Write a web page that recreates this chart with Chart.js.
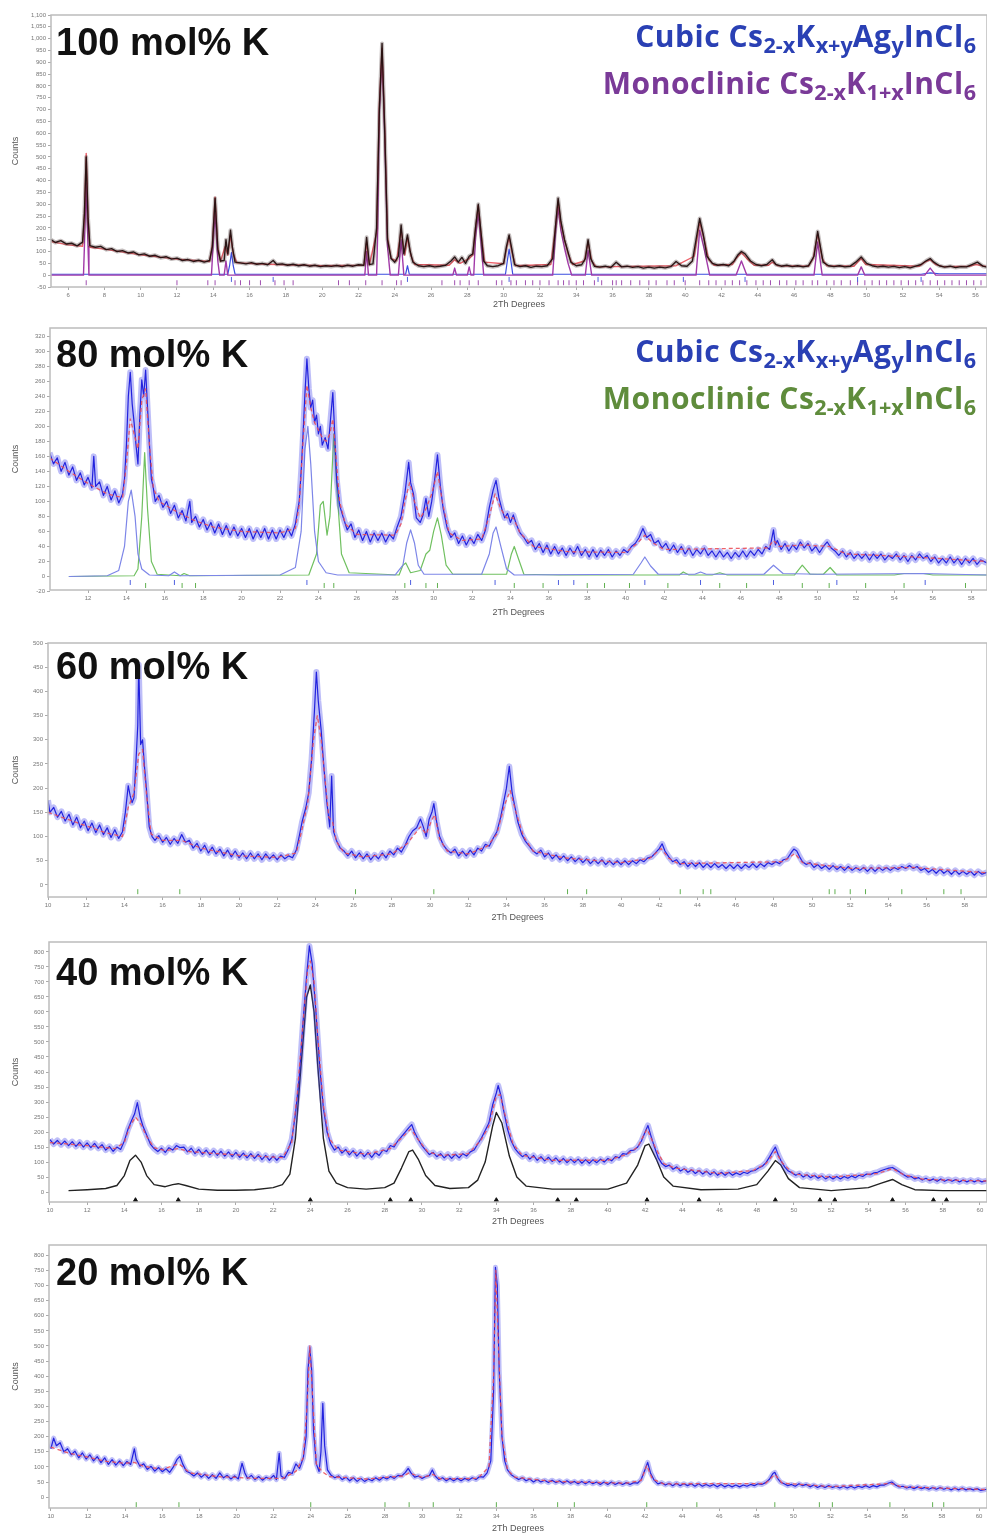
<!DOCTYPE html>
<html>
<head>
<meta charset="utf-8">
<script src="https://cdn.jsdelivr.net/npm/chart.js@4.4.1/dist/chart.umd.min.js"></script>
<style>
  body { margin: 0; background: #fff; width: 987px; height: 1537px; overflow: hidden; position: relative; font-family: "Liberation Sans", Arial, sans-serif; }
  canvas { position: absolute; left: 0; }
  .tag { position: absolute; left: 56px; font-weight: bold; font-size: 38px; line-height: 1; color: #111; white-space: nowrap; }
  .leg { position: absolute; right: 11px; font-family: "Open Sans", Lato, sans-serif; font-weight: bold; font-size: 30px; line-height: 1; white-space: nowrap; letter-spacing: 0.5px; }
  .leg sub { font-size: 0.72em; vertical-align: -0.3em; line-height: 0; letter-spacing: 0; }
  .cub { color: #2a40b4; }
  .mono1 { color: #7a3a98; }
  .mono2 { color: #5f8c3c; }
</style>
</head>
<body>
<canvas id="p100" width="987" height="312" style="top:0px"></canvas>
<canvas id="p80" width="987" height="302" style="top:318px"></canvas>
<canvas id="p60" width="987" height="295" style="top:630px"></canvas>
<canvas id="p40" width="987" height="297" style="top:932px"></canvas>
<canvas id="p20" width="987" height="298" style="top:1238px"></canvas>

<div class="tag" style="top:23px">100 mol% K</div>
<div class="tag" style="top:335px">80 mol% K</div>
<div class="tag" style="top:647px">60 mol% K</div>
<div class="tag" style="top:953px">40 mol% K</div>
<div class="tag" style="top:1253px">20 mol% K</div>

<div class="leg cub" style="top:21px">Cubic Cs<sub>2-x</sub>K<sub>x+y</sub>Ag<sub>y</sub>InCl<sub>6</sub></div>
<div class="leg mono1" style="top:68px">Monoclinic Cs<sub>2-x</sub>K<sub>1+x</sub>InCl<sub>6</sub></div>
<div class="leg cub" style="top:336px">Cubic Cs<sub>2-x</sub>K<sub>x+y</sub>Ag<sub>y</sub>InCl<sub>6</sub></div>
<div class="leg mono2" style="top:383px">Monoclinic Cs<sub>2-x</sub>K<sub>1+x</sub>InCl<sub>6</sub></div>

<script>
// ---- 100 mol% K ----
const obs100 = [[5.06,150],[5.3,138],[5.6,146],[5.9,132],[6.2,135],[6.5,124],[6.8,140],[6.9,260],[7.0,500],[7.1,240],[7.2,125],[7.5,118],[7.8,122],[8.1,108],[8.4,112],[8.7,100],[9.0,104],[9.3,94],[9.6,98],[9.9,86],[10.2,90],[10.5,80],[10.8,84],[11.1,74],[11.4,78],[11.7,68],[12.0,72],[12.3,62],[12.6,66],[12.9,58],[13.2,63],[13.5,55],[13.8,62],[13.95,120],[14.1,325],[14.25,110],[14.4,60],[14.6,62],[14.7,150],[14.8,90],[14.95,190],[15.05,120],[15.2,55],[15.5,52],[15.8,48],[16.1,53],[16.4,46],[16.7,50],[17.0,44],[17.3,62],[17.5,45],[17.8,48],[18.1,42],[18.4,46],[18.7,40],[19.0,44],[19.3,38],[19.6,42],[19.9,36],[20.2,40],[20.5,37],[20.8,41],[21.1,36],[21.4,42],[21.7,38],[22.0,44],[22.3,42],[22.45,160],[22.6,45],[22.8,48],[23.0,200],[23.15,700],[23.3,980],[23.45,600],[23.6,150],[23.8,70],[24.0,55],[24.2,80],[24.35,212],[24.5,90],[24.7,170],[24.85,100],[25.0,55],[25.3,40],[25.6,36],[25.9,40],[26.2,35],[26.5,38],[26.8,42],[27.1,60],[27.3,77],[27.5,55],[27.7,75],[27.9,50],[28.1,80],[28.3,90],[28.45,200],[28.6,300],[28.75,180],[28.9,60],[29.1,40],[29.4,36],[29.7,40],[30.0,50],[30.15,120],[30.3,170],[30.45,110],[30.6,45],[30.9,36],[31.2,40],[31.5,33],[31.8,38],[32.1,36],[32.4,40],[32.7,70],[32.85,200],[33.0,325],[33.15,230],[33.35,150],[33.5,110],[33.7,55],[34.0,40],[34.3,44],[34.5,70],[34.65,150],[34.8,70],[35.0,38],[35.3,34],[35.6,38],[35.9,32],[36.2,55],[36.5,35],[36.8,38],[37.1,33],[37.4,36],[37.7,30],[38.0,34],[38.3,30],[38.6,34],[38.9,31],[39.2,36],[39.5,58],[39.8,40],[40.1,38],[40.4,60],[40.6,150],[40.8,240],[41.0,170],[41.2,80],[41.5,50],[41.8,42],[42.1,45],[42.4,40],[42.7,60],[42.9,85],[43.1,100],[43.3,90],[43.6,60],[43.9,45],[44.2,40],[44.5,45],[44.8,65],[45.0,45],[45.3,38],[45.6,42],[45.9,36],[46.2,40],[46.5,35],[46.8,40],[47.1,80],[47.3,185],[47.45,120],[47.6,55],[47.9,40],[48.2,36],[48.5,40],[48.8,35],[49.1,38],[49.4,55],[49.7,77],[50.0,50],[50.3,40],[50.6,35],[50.9,38],[51.2,34],[51.5,37],[51.8,32],[52.1,36],[52.4,31],[52.7,38],[53.0,45],[53.3,62],[53.5,70],[53.7,55],[54.0,40],[54.3,34],[54.6,38],[54.9,32],[55.2,36],[55.5,35],[55.8,45],[56.1,55],[56.4,38],[56.63,34]];
const calc100 = [[5.06,142],[6,128],[6.8,122],[6.9,250],[7.0,515],[7.1,250],[7.2,118],[8,110],[10,86],[12,68],[13.8,58],[13.95,130],[14.1,330],[14.25,120],[14.4,58],[14.65,120],[14.8,85],[14.95,170],[15.1,90],[15.3,52],[17,46],[20,40],[22.3,42],[22.45,140],[22.6,44],[23.0,180],[23.15,720],[23.3,960],[23.45,620],[23.6,160],[23.8,70],[24.1,60],[24.35,190],[24.55,85],[24.7,160],[24.9,80],[25.1,45],[27,42],[27.3,65],[27.6,50],[28.1,70],[28.3,85],[28.45,200],[28.6,295],[28.75,180],[28.95,55],[30.0,48],[30.15,110],[30.3,160],[30.45,100],[30.65,40],[32.6,45],[32.85,200],[33.0,315],[33.15,220],[33.35,150],[33.55,90],[33.8,45],[34.45,60],[34.65,140],[34.85,60],[35.1,35],[39.5,40],[40.5,80],[40.8,225],[41.05,150],[41.3,65],[41.6,42],[42.6,45],[42.8,70],[43.1,95],[43.4,70],[43.8,42],[44.6,42],[44.8,55],[45.1,40],[46.8,38],[47.05,70],[47.3,175],[47.55,70],[47.8,40],[49.3,38],[49.5,55],[49.7,70],[49.95,45],[52.9,38],[53.2,55],[53.5,65],[53.8,45],[54.2,36],[55.7,38],[56,45],[56.63,36]];
const mono100 = [[5.06,0],[6.85,0],[6.9,120],[7.0,390],[7.1,120],[7.15,0],[13.9,0],[13.95,70],[14.1,270],[14.25,60],[14.35,0],[14.6,0],[14.7,60],[14.8,0],[22.35,0],[22.45,100],[22.55,0],[23.0,0],[23.05,150],[23.15,680],[23.3,930],[23.45,580],[23.6,120],[23.75,0],[24.2,0],[24.35,150],[24.5,0],[27.2,0],[27.3,30],[27.4,0],[28.0,0],[28.1,35],[28.2,0],[28.35,0],[28.45,160],[28.6,262],[28.75,140],[28.9,0],[32.7,0],[32.85,170],[33.0,285],[33.15,190],[33.35,115],[33.55,50],[33.75,0],[34.5,0],[34.65,105],[34.85,0],[40.6,0],[40.8,190],[41.05,110],[41.35,0],[42.8,0],[43.1,60],[43.4,0],[47.1,0],[47.3,140],[47.55,0],[49.5,0],[49.7,35],[49.9,0],[53.2,0],[53.5,30],[53.8,0],[56.63,0]];
const cubic100 = [[5.06,4],[14.8,4],[14.9,40],[15.0,95],[15.1,40],[15.2,4],[24.6,4],[24.7,40],[24.8,4],[30.1,4],[30.2,60],[30.3,110],[30.4,60],[30.5,4],[53,4],[53.5,10],[54,6],[56.63,6]];
const monoTicks100 = [7.0,12.0,13.7,14.1,15.2,15.5,16.0,16.6,17.4,17.9,18.4,20.9,21.5,22.4,23.3,24.1,24.35,26.6,27.3,27.6,28.1,28.6,29.6,29.9,30.4,30.7,31.2,31.6,32.0,32.5,33.0,33.3,33.6,34.0,34.4,35.0,35.4,36.0,36.2,36.5,37.0,37.5,38.0,38.4,39.0,39.4,40.0,40.8,41.3,41.7,42.2,42.6,43.0,43.4,43.9,44.3,44.7,45.2,45.6,46.1,46.5,47.0,47.3,47.8,48.2,48.6,49.1,49.5,49.9,50.3,50.7,51.1,51.5,51.9,52.3,52.7,53.1,53.5,53.9,54.3,54.7,55.1,55.5,55.9,56.3];
const cubicTicks100 = [15.0,17.3,24.7,30.3,35.2,39.9,43.3,49.5,53.0];
const xTicks100 = [6,8,10,12,14,16,18,20,22,24,26,28,30,32,34,36,38,40,42,44,46,48,50,52,54,56];
const yTicks100 = [-50,0,50,100,150,200,250,300,350,400,450,500,550,600,650,700,750,800,850,900,950,1000,1050,1100];

// ---- 80 mol% K ----
const obs80 = [[10.0,165],[10.2,150],[10.4,158],[10.6,140],[10.8,152],[11.0,135],[11.2,146],[11.4,128],[11.6,138],[11.8,122],[12.0,132],[12.2,118],[12.3,160],[12.4,120],[12.6,126],[12.8,108],[13.0,120],[13.2,102],[13.4,114],[13.6,98],[13.8,110],[13.9,130],[14.0,175],[14.1,240],[14.2,272],[14.3,230],[14.4,205],[14.5,175],[14.6,150],[14.7,215],[14.8,262],[14.9,240],[15.0,275],[15.1,225],[15.2,175],[15.3,130],[15.4,118],[15.5,100],[15.7,108],[15.9,92],[16.1,100],[16.3,84],[16.5,95],[16.7,78],[16.9,88],[17.1,74],[17.3,100],[17.4,72],[17.6,80],[17.8,66],[18.0,76],[18.2,62],[18.4,72],[18.6,58],[18.8,70],[19.0,56],[19.2,68],[19.4,55],[19.6,66],[19.8,54],[20.0,64],[20.2,52],[20.4,64],[20.6,50],[20.8,62],[21.0,52],[21.2,64],[21.4,50],[21.6,62],[21.8,50],[22.0,62],[22.2,52],[22.4,64],[22.6,54],[22.8,70],[23.0,100],[23.1,140],[23.2,190],[23.3,245],[23.4,290],[23.5,250],[23.6,225],[23.7,235],[23.8,205],[23.9,215],[24.0,190],[24.1,200],[24.2,175],[24.35,185],[24.5,170],[24.6,200],[24.75,245],[24.85,190],[24.95,130],[25.1,95],[25.3,78],[25.5,62],[25.7,70],[25.9,52],[26.1,62],[26.3,48],[26.5,60],[26.7,46],[26.9,58],[27.1,48],[27.3,58],[27.5,46],[27.7,56],[27.9,50],[28.1,66],[28.3,80],[28.5,110],[28.7,152],[28.8,125],[28.95,110],[29.1,78],[29.3,72],[29.45,82],[29.6,104],[29.75,80],[29.9,100],[30.05,128],[30.2,162],[30.35,120],[30.5,90],[30.7,65],[30.9,52],[31.1,58],[31.3,44],[31.5,54],[31.7,42],[31.9,52],[32.1,44],[32.3,56],[32.5,48],[32.7,62],[32.9,92],[33.1,115],[33.25,128],[33.4,105],[33.55,90],[33.7,78],[33.85,84],[34.0,72],[34.15,82],[34.3,70],[34.5,58],[34.7,52],[34.9,44],[35.1,48],[35.3,36],[35.5,44],[35.7,32],[35.9,42],[36.1,30],[36.3,40],[36.5,30],[36.7,38],[36.9,28],[37.1,38],[37.3,30],[37.5,40],[37.7,28],[37.9,36],[38.1,26],[38.3,36],[38.5,26],[38.7,35],[38.9,28],[39.1,36],[39.3,26],[39.5,34],[39.7,28],[39.9,36],[40.1,32],[40.3,40],[40.5,44],[40.7,52],[40.9,64],[41.1,52],[41.3,56],[41.5,44],[41.7,48],[41.9,38],[42.1,44],[42.3,34],[42.5,42],[42.7,32],[42.9,40],[43.1,30],[43.3,38],[43.5,28],[43.7,36],[43.9,30],[44.1,38],[44.3,28],[44.5,34],[44.7,26],[44.9,34],[45.1,26],[45.3,32],[45.5,24],[45.7,32],[45.9,26],[46.1,34],[46.3,26],[46.5,34],[46.7,28],[46.9,36],[47.1,30],[47.3,40],[47.5,36],[47.7,62],[47.8,42],[47.9,48],[48.1,36],[48.3,44],[48.5,34],[48.7,42],[48.9,36],[49.1,46],[49.3,38],[49.5,44],[49.7,34],[49.9,40],[50.1,32],[50.3,40],[50.5,46],[50.7,38],[50.9,34],[51.1,28],[51.3,34],[51.5,26],[51.7,32],[51.9,24],[52.1,30],[52.3,24],[52.5,30],[52.7,22],[52.9,30],[53.1,24],[53.3,30],[53.5,22],[53.7,28],[53.9,24],[54.1,30],[54.3,22],[54.5,28],[54.7,20],[54.9,28],[55.1,22],[55.3,30],[55.5,24],[55.7,28],[55.9,20],[56.1,26],[56.3,18],[56.5,24],[56.7,18],[56.9,26],[57.1,18],[57.3,24],[57.5,16],[57.7,24],[57.9,18],[58.1,24],[58.3,16],[58.5,22],[58.82,18]];
const calc80 = [[10,158],[11,140],[12,124],[13,110],[13.8,105],[14.0,150],[14.2,210],[14.45,185],[14.6,170],[14.8,235],[15.0,250],[15.2,175],[15.4,118],[15.7,100],[16.5,88],[17.5,75],[18.5,66],[20,60],[22,58],[22.8,64],[23.0,95],[23.2,180],[23.4,255],[23.6,225],[23.8,205],[24.0,195],[24.2,185],[24.4,180],[24.6,190],[24.75,210],[24.9,165],[25.1,100],[25.4,70],[26,56],[28,55],[28.3,70],[28.5,100],[28.75,125],[29.0,100],[29.3,78],[29.6,90],[29.9,110],[30.2,140],[30.45,100],[30.8,58],[31.5,48],[32.5,50],[32.9,80],[33.2,110],[33.5,90],[33.8,78],[34.15,78],[34.5,58],[35.2,40],[37,33],[40,32],[40.6,44],[41.0,55],[41.4,45],[42,36],[47.4,38],[47.7,48],[48.0,40],[49.2,42],[50.6,40],[51.5,30],[55,26],[58.82,20]];
const cubic80 = [[11.0,0],[13.0,1],[13.6,8],[13.9,40],[14.1,100],[14.25,115],[14.45,80],[14.6,30],[14.8,10],[15.2,2],[16.2,1],[16.5,6],[16.8,1],[22.0,2],[22.8,12],[23.1,60],[23.3,170],[23.45,200],[23.6,150],[23.8,60],[24.0,20],[24.4,5],[25,2],[28.0,2],[28.4,15],[28.6,45],[28.8,62],[29.0,45],[29.2,15],[29.5,3],[32.5,3],[32.9,30],[33.1,58],[33.25,66],[33.5,40],[33.8,10],[34.2,2],[40.4,3],[40.8,18],[41.0,26],[41.3,14],[41.7,3],[43.6,3],[43.9,6],[44.2,3],[47.2,3],[47.7,15],[48.2,4],[50,3],[55.5,4],[58.82,2]];
const mono80 = [[11,0],[14.4,1],[14.6,10],[14.8,80],[14.95,165],[15.1,90],[15.3,20],[15.6,3],[16.8,1],[17.0,4],[17.3,1],[23.5,2],[23.9,30],[24.1,95],[24.25,100],[24.45,55],[24.6,80],[24.8,190],[24.95,120],[25.2,30],[25.6,5],[28.2,2],[28.4,15],[28.55,18],[28.8,5],[29.3,8],[29.6,30],[29.8,35],[30.0,60],[30.2,78],[30.4,55],[30.65,15],[31,3],[33.8,3],[34.05,30],[34.2,40],[34.4,25],[34.7,3],[36.5,2],[42.8,2],[43.0,6],[43.3,2],[44.5,2],[44.9,5],[45.3,2],[48.8,2],[49.2,15],[49.6,3],[50.3,3],[50.65,12],[51.0,2],[54.0,2],[54.5,4],[55.5,4],[56,2],[58.82,2]];
const cubicTicks80 = [14.2,16.5,23.4,28.8,33.2,36.5,37.3,41.0,43.9,47.7,51.0,55.6];
const monoTicks80 = [15.0,16.9,17.6,24.3,24.8,28.5,29.6,30.2,34.2,35.7,38.0,38.9,40.2,42.2,44.9,46.3,49.2,50.6,52.5,54.5,57.7];
const xTicks80 = [12,14,16,18,20,22,24,26,28,30,32,34,36,38,40,42,44,46,48,50,52,54,56,58];
const yTicks80 = [-20,0,20,40,60,80,100,120,140,160,180,200,220,240,260,280,300,320];

// ---- 60 mol% K ----
const obs60 = [[10.0,175],[10.1,150],[10.3,160],[10.5,140],[10.7,152],[10.9,132],[11.1,146],[11.3,124],[11.5,140],[11.7,118],[11.9,132],[12.1,112],[12.3,128],[12.5,108],[12.7,124],[12.9,104],[13.1,118],[13.3,98],[13.5,114],[13.7,96],[13.9,110],[14.05,150],[14.2,205],[14.3,185],[14.4,170],[14.5,180],[14.6,250],[14.7,330],[14.75,455],[14.85,290],[14.95,300],[15.05,245],[15.15,200],[15.3,120],[15.45,100],[15.6,92],[15.8,102],[16.0,88],[16.2,98],[16.4,84],[16.6,96],[16.8,86],[17.0,104],[17.2,88],[17.4,92],[17.6,76],[17.8,86],[18.0,70],[18.2,82],[18.4,66],[18.6,78],[18.8,64],[19.0,74],[19.2,60],[19.4,72],[19.6,58],[19.8,70],[20.0,56],[20.2,66],[20.4,54],[20.6,66],[20.8,54],[21.0,64],[21.2,52],[21.4,64],[21.6,54],[21.8,62],[22.0,52],[22.2,62],[22.4,54],[22.6,60],[22.8,56],[23.0,72],[23.15,100],[23.3,130],[23.5,160],[23.65,190],[23.8,260],[23.95,360],[24.05,440],[24.15,380],[24.3,320],[24.45,240],[24.6,170],[24.75,120],[24.85,225],[24.95,110],[25.1,92],[25.3,76],[25.5,70],[25.7,60],[25.9,70],[26.1,56],[26.3,66],[26.5,54],[26.7,64],[26.9,52],[27.1,62],[27.3,54],[27.5,66],[27.7,56],[27.9,70],[28.1,62],[28.3,76],[28.5,68],[28.7,82],[28.9,100],[29.1,112],[29.3,118],[29.5,136],[29.65,120],[29.8,100],[29.95,135],[30.1,150],[30.2,168],[30.35,130],[30.5,100],[30.7,82],[30.9,72],[31.1,66],[31.3,74],[31.5,60],[31.7,70],[31.9,60],[32.1,72],[32.3,62],[32.5,76],[32.7,70],[32.9,84],[33.1,80],[33.3,96],[33.5,110],[33.7,140],[33.85,170],[34.0,200],[34.15,245],[34.3,190],[34.45,160],[34.6,130],[34.8,105],[35.0,90],[35.2,80],[35.4,70],[35.6,64],[35.8,72],[36.0,58],[36.2,66],[36.4,54],[36.6,62],[36.8,52],[37.0,60],[37.2,50],[37.4,58],[37.6,48],[37.8,56],[38.0,46],[38.2,54],[38.4,44],[38.6,52],[38.8,44],[39.0,52],[39.2,42],[39.4,50],[39.6,42],[39.8,50],[40.0,42],[40.2,50],[40.4,42],[40.6,50],[40.8,44],[41.0,52],[41.2,48],[41.4,56],[41.6,58],[41.8,66],[42.0,75],[42.15,85],[42.3,70],[42.5,58],[42.7,48],[42.9,52],[43.1,42],[43.3,48],[43.5,38],[43.7,46],[43.9,38],[44.1,46],[44.3,36],[44.5,44],[44.7,36],[44.9,44],[45.1,36],[45.3,42],[45.5,34],[45.7,42],[45.9,34],[46.1,42],[46.3,34],[46.5,42],[46.7,36],[46.9,44],[47.1,36],[47.3,44],[47.5,38],[47.7,46],[47.9,42],[48.1,48],[48.3,44],[48.5,52],[48.7,54],[48.9,66],[49.05,74],[49.2,70],[49.35,58],[49.5,48],[49.7,42],[49.9,46],[50.1,36],[50.3,42],[50.5,34],[50.7,40],[50.9,32],[51.1,40],[51.3,32],[51.5,38],[51.7,30],[51.9,38],[52.1,30],[52.3,36],[52.5,30],[52.7,36],[52.9,28],[53.1,36],[53.3,28],[53.5,36],[53.7,30],[53.9,36],[54.1,30],[54.3,36],[54.5,32],[54.7,38],[54.9,34],[55.1,40],[55.3,34],[55.5,38],[55.7,30],[55.9,34],[56.1,26],[56.3,32],[56.5,24],[56.7,32],[56.9,24],[57.1,30],[57.3,22],[57.5,30],[57.7,22],[57.9,28],[58.1,22],[58.3,28],[58.5,20],[58.7,28],[58.9,22],[59.16,26]];
const calc60 = [[10,150],[11,136],[12,122],[13,108],[13.9,100],[14.2,160],[14.5,190],[14.75,270],[14.95,280],[15.15,190],[15.4,105],[16,92],[17,92],[18,76],[20,60],[22,57],[23,66],[23.3,115],[23.6,170],[23.9,300],[24.1,350],[24.3,300],[24.5,220],[24.7,140],[24.9,130],[25.1,90],[25.5,66],[26.5,58],[28,64],[28.8,85],[29.2,105],[29.5,120],[29.8,105],[30.1,135],[30.25,145],[30.5,95],[30.9,70],[32,64],[33,80],[33.5,105],[33.9,165],[34.2,195],[34.5,150],[34.9,100],[35.4,70],[37,56],[40,46],[41.5,55],[42.1,75],[42.5,55],[43,44],[48.5,48],[49.1,65],[49.5,46],[52,34],[55.3,36],[59.16,25]];
const monoTicks60 = [14.7,16.9,26.1,30.2,37.2,38.2,43.1,44.3,44.7,50.9,51.2,52.0,52.8,54.7,56.9,57.8];
const xTicks60 = [10,12,14,16,18,20,22,24,26,28,30,32,34,36,38,40,42,44,46,48,50,52,54,56,58];
const yTicks60 = [0,50,100,150,200,250,300,350,400,450,500];

// ---- 40 mol% K ----
const obs40 = [[10.0,175],[10.2,160],[10.4,172],[10.6,158],[10.8,170],[11.0,155],[11.2,168],[11.4,152],[11.6,166],[11.8,150],[12.0,164],[12.2,148],[12.4,162],[12.6,146],[12.8,158],[13.0,140],[13.2,152],[13.4,136],[13.6,150],[13.8,142],[14.0,170],[14.2,210],[14.4,240],[14.55,260],[14.7,298],[14.85,250],[15.0,220],[15.2,190],[15.4,160],[15.6,145],[15.8,135],[16.0,146],[16.2,132],[16.4,148],[16.6,140],[16.8,155],[17.0,148],[17.2,150],[17.4,134],[17.6,146],[17.8,128],[18.0,142],[18.2,126],[18.4,140],[18.6,124],[18.8,138],[19.0,122],[19.2,136],[19.4,120],[19.6,134],[19.8,118],[20.0,132],[20.2,116],[20.4,130],[20.6,114],[20.8,128],[21.0,112],[21.2,126],[21.4,108],[21.6,122],[21.8,106],[22.0,120],[22.2,106],[22.4,120],[22.6,116],[22.8,140],[23.0,175],[23.2,260],[23.4,380],[23.6,560],[23.8,720],[23.95,820],[24.1,760],[24.3,600],[24.5,420],[24.7,280],[24.9,200],[25.1,160],[25.3,140],[25.5,150],[25.7,130],[25.9,142],[26.1,124],[26.3,138],[26.5,120],[26.7,134],[26.9,118],[27.1,132],[27.3,116],[27.5,132],[27.7,122],[27.9,140],[28.1,135],[28.3,155],[28.5,150],[28.7,170],[28.9,185],[29.1,200],[29.3,215],[29.45,225],[29.6,200],[29.8,175],[30.0,155],[30.2,140],[30.4,125],[30.6,132],[30.8,118],[31.0,128],[31.2,114],[31.4,126],[31.6,112],[31.8,126],[32.0,114],[32.2,128],[32.4,120],[32.6,134],[32.8,140],[33.0,160],[33.2,180],[33.4,205],[33.6,230],[33.8,290],[34.0,330],[34.1,355],[34.25,320],[34.4,270],[34.6,210],[34.8,170],[35.0,145],[35.2,130],[35.4,118],[35.6,126],[35.8,110],[36.0,122],[36.2,106],[36.4,118],[36.6,104],[36.8,116],[37.0,102],[37.2,114],[37.4,100],[37.6,112],[37.8,98],[38.0,110],[38.2,98],[38.4,110],[38.6,96],[38.8,108],[39.0,96],[39.2,108],[39.4,98],[39.6,110],[39.8,100],[40.0,112],[40.2,104],[40.4,118],[40.6,114],[40.8,128],[41.0,126],[41.2,138],[41.4,140],[41.6,150],[41.8,170],[42.0,200],[42.15,222],[42.3,190],[42.5,150],[42.7,115],[42.9,95],[43.1,85],[43.3,90],[43.5,76],[43.7,84],[43.9,70],[44.1,78],[44.3,66],[44.5,74],[44.7,62],[44.9,72],[45.1,60],[45.3,70],[45.5,58],[45.7,68],[45.9,56],[46.1,66],[46.3,56],[46.5,66],[46.7,56],[46.9,64],[47.1,58],[47.3,66],[47.5,62],[47.7,70],[47.9,72],[48.1,80],[48.3,86],[48.5,98],[48.7,118],[48.9,140],[49.0,150],[49.15,125],[49.3,105],[49.5,84],[49.7,70],[49.9,64],[50.1,56],[50.3,62],[50.5,50],[50.7,58],[50.9,48],[51.1,56],[51.3,46],[51.5,54],[51.7,44],[51.9,52],[52.1,44],[52.3,52],[52.5,44],[52.7,52],[52.9,46],[53.1,54],[53.3,48],[53.5,56],[53.7,52],[53.9,60],[54.1,58],[54.3,64],[54.5,66],[54.7,72],[54.9,76],[55.1,80],[55.3,82],[55.5,74],[55.7,66],[55.9,58],[56.1,50],[56.3,52],[56.5,44],[56.7,48],[56.9,40],[57.1,46],[57.3,38],[57.5,44],[57.7,36],[57.9,44],[58.1,36],[58.3,42],[58.5,36],[58.7,42],[58.9,34],[59.1,40],[59.3,34],[59.5,40],[59.7,34],[59.9,40],[60.1,34],[60.38,38]];
const calc40 = [[10,165],[12,155],[13.5,145],[14.0,165],[14.3,220],[14.6,250],[14.9,225],[15.2,185],[15.6,148],[16.2,138],[16.9,145],[17.5,135],[19,128],[21,120],[22.5,115],[23.0,165],[23.3,330],[23.6,560],[23.85,740],[24.0,770],[24.2,700],[24.4,520],[24.7,290],[25.0,180],[25.5,140],[27,126],[28.3,145],[28.9,180],[29.4,210],[29.8,175],[30.3,135],[31,122],[32.5,128],[33.2,175],[33.6,220],[34.0,320],[34.2,325],[34.5,250],[34.9,160],[35.4,122],[37,106],[40,106],[41.0,125],[41.6,150],[42.1,210],[42.5,155],[43.0,95],[43.6,80],[46,62],[47.8,72],[48.5,95],[49.0,135],[49.4,95],[50,60],[52,50],[54.5,62],[55.3,78],[55.9,58],[57,42],[60.38,37]];
const phase40 = [[11.0,5],[12,8],[13,12],[13.6,22],[14.0,55],[14.3,105],[14.6,123],[14.9,100],[15.2,55],[15.6,25],[16.2,18],[16.6,25],[16.9,28],[17.3,22],[18,10],[19,6],[20,6],[21,8],[22,15],[22.5,25],[22.9,60],[23.2,180],[23.5,420],[23.8,650],[24.0,690],[24.2,600],[24.4,420],[24.7,180],[25.0,70],[25.4,30],[26,15],[27,10],[28,15],[28.5,30],[28.9,80],[29.3,135],[29.5,140],[29.8,110],[30.2,55],[30.7,22],[31.5,12],[32.5,15],[33.0,40],[33.4,100],[33.8,220],[34.0,265],[34.3,230],[34.7,120],[35.1,50],[35.6,20],[37,10],[40,10],[41.0,30],[41.6,90],[42.0,155],[42.2,160],[42.6,110],[43.0,50],[43.5,20],[45,8],[47,10],[48,25],[48.6,70],[49.0,105],[49.3,90],[49.7,45],[50.3,15],[52,5],[54,15],[54.7,30],[55.3,42],[55.8,25],[56.5,8],[58,5],[60.38,5]];
const peaks40 = [14.6,16.9,24.0,28.3,29.4,34.0,37.3,38.3,42.1,44.9,49.0,51.4,52.2,55.3,57.5,58.2];
const xTicks40 = [10,12,14,16,18,20,22,24,26,28,30,32,34,36,38,40,42,44,46,48,50,52,54,56,58,60];
const yTicks40 = [0,50,100,150,200,250,300,350,400,450,500,550,600,650,700,750,800];

// ---- 20 mol% K ----
const obs20 = [[10.0,160],[10.15,195],[10.3,170],[10.5,180],[10.7,150],[10.9,160],[11.1,140],[11.3,152],[11.5,130],[11.7,146],[11.9,126],[12.1,140],[12.3,120],[12.5,134],[12.7,114],[12.9,130],[13.1,108],[13.3,124],[13.5,106],[13.7,120],[13.9,104],[14.1,118],[14.3,108],[14.5,160],[14.6,125],[14.8,102],[15.0,110],[15.2,92],[15.4,102],[15.6,86],[15.8,98],[16.0,84],[16.2,94],[16.4,82],[16.6,100],[16.8,125],[16.95,135],[17.1,110],[17.3,86],[17.5,80],[17.7,70],[17.9,80],[18.1,66],[18.3,76],[18.5,62],[18.7,74],[18.9,62],[19.1,80],[19.3,64],[19.5,72],[19.7,60],[19.9,70],[20.1,60],[20.3,112],[20.45,80],[20.6,62],[20.8,72],[21.0,58],[21.2,68],[21.4,56],[21.6,66],[21.8,60],[22.0,72],[22.15,58],[22.3,145],[22.4,70],[22.6,62],[22.8,82],[23.0,78],[23.2,110],[23.4,95],[23.6,130],[23.75,200],[23.85,420],[23.95,495],[24.05,420],[24.15,220],[24.3,110],[24.45,85],[24.55,150],[24.65,310],[24.75,170],[24.9,90],[25.1,72],[25.3,64],[25.5,70],[25.7,58],[25.9,66],[26.1,54],[26.3,64],[26.5,52],[26.7,62],[26.9,52],[27.1,60],[27.3,54],[27.5,64],[27.7,56],[27.9,66],[28.1,60],[28.3,68],[28.5,62],[28.7,72],[28.9,70],[29.1,82],[29.25,95],[29.4,80],[29.6,66],[29.8,70],[30.0,62],[30.2,68],[30.4,72],[30.55,90],[30.7,70],[30.9,58],[31.1,64],[31.3,54],[31.5,62],[31.7,54],[31.9,62],[32.1,54],[32.3,62],[32.5,56],[32.7,64],[32.9,58],[33.1,68],[33.3,66],[33.5,80],[33.7,120],[33.85,350],[33.95,760],[34.05,700],[34.15,420],[34.3,200],[34.45,120],[34.6,90],[34.8,74],[35.0,66],[35.2,58],[35.4,64],[35.6,54],[35.8,60],[36.0,50],[36.2,58],[36.4,50],[36.6,56],[36.8,48],[37.0,56],[37.2,48],[37.4,54],[37.6,46],[37.8,54],[38.0,46],[38.2,52],[38.4,44],[38.6,52],[38.8,44],[39.0,52],[39.2,44],[39.4,50],[39.6,42],[39.8,50],[40.0,42],[40.2,50],[40.4,42],[40.6,48],[40.8,42],[41.0,48],[41.2,42],[41.4,48],[41.6,46],[41.8,58],[42.0,90],[42.15,115],[42.3,80],[42.5,56],[42.7,44],[42.9,48],[43.1,40],[43.3,46],[43.5,38],[43.7,46],[43.9,38],[44.1,44],[44.3,38],[44.5,44],[44.7,36],[44.9,44],[45.1,36],[45.3,42],[45.5,36],[45.7,42],[45.9,34],[46.1,42],[46.3,34],[46.5,40],[46.7,34],[46.9,40],[47.1,34],[47.3,40],[47.5,36],[47.7,42],[47.9,38],[48.1,44],[48.3,42],[48.5,48],[48.7,58],[48.9,78],[49.0,82],[49.15,62],[49.3,50],[49.5,44],[49.7,38],[49.9,42],[50.1,36],[50.3,44],[50.5,38],[50.7,42],[50.9,34],[51.1,40],[51.3,32],[51.5,38],[51.7,32],[51.9,38],[52.1,32],[52.3,36],[52.5,30],[52.7,36],[52.9,30],[53.1,36],[53.3,30],[53.5,36],[53.7,32],[53.9,38],[54.1,32],[54.3,38],[54.5,34],[54.7,40],[54.9,40],[55.1,46],[55.3,50],[55.5,40],[55.7,34],[55.9,36],[56.1,30],[56.3,34],[56.5,28],[56.7,34],[56.9,28],[57.1,32],[57.3,26],[57.5,32],[57.7,26],[57.9,32],[58.1,26],[58.3,30],[58.5,24],[58.7,30],[58.9,24],[59.1,30],[59.3,24],[59.5,28],[59.7,24],[59.9,28],[60.1,22],[60.43,26]];
const calc20 = [[10,165],[11,145],[12,132],[13,118],[14,112],[14.5,115],[15,102],[16,92],[16.9,110],[17.5,80],[19,68],[21,62],[22.5,62],[23.2,85],[23.6,130],[23.8,300],[23.95,500],[24.1,330],[24.3,110],[24.6,85],[25,68],[27,60],[29,70],[29.3,80],[30,65],[30.6,75],[31,60],[33,62],[33.6,100],[33.85,400],[33.97,750],[34.1,520],[34.3,200],[34.6,90],[35,66],[37,52],[41,46],[41.8,55],[42.1,105],[42.4,60],[43,44],[48.5,45],[49.0,75],[49.4,46],[52,35],[55.3,45],[55.8,34],[60.43,25]];
const monoTicks20 = [14.6,16.9,24.0,28.0,29.3,30.6,34.0,37.3,38.2,42.1,44.8,49.0,51.4,52.1,55.2,57.5,58.1];
const xTicks20 = [10,12,14,16,18,20,22,24,26,28,30,32,34,36,38,40,42,44,46,48,50,52,54,56,58,60];
const yTicks20 = [0,50,100,150,200,250,300,350,400,450,500,550,600,650,700,750,800];

const OBS_BLUE = 'rgba(25,25,220,0.95)';
const OBS_HALO = 'rgba(70,70,235,0.35)';
const CALC_RED = 'rgba(235,80,90,0.9)';

function line(data, color, width, dash) {
  return {
    data: data.map(p => ({ x: p[0], y: p[1] })),
    showLine: true, borderColor: color, borderWidth: width,
    borderDash: dash || [], borderJoinStyle: 'round',
    pointRadius: 0, fill: false, tension: 0
  };
}

function marks(xs, y, color, style, r) {
  return {
    data: xs.map(x => ({ x: x, y: y })),
    showLine: false, pointStyle: style, rotation: style === 'line' ? 90 : 0,
    pointRadius: r, borderColor: color, backgroundColor: color, borderWidth: 1
  };
}

// grey box round the plot area
const frame = {
  id: 'frame',
  afterDraw(chart) {
    const { ctx, chartArea: a } = chart;
    ctx.save();
    ctx.strokeStyle = '#bcbcbc';
    ctx.lineWidth = 1.5;
    ctx.strokeRect(a.left, a.top, a.right - a.left, a.bottom - a.top);
    ctx.restore();
  }
};

function panel(id, p) {
  const tickFont = { family: 'Liberation Sans', size: 6 };
  new Chart(document.getElementById(id), {
    type: 'scatter',
    data: { datasets: p.datasets },
    options: {
      responsive: false,
      animation: false,
      events: [],
      layout: { autoPadding: false, padding: { top: p.padTop, left: 0, right: 0, bottom: 0 } },
      plugins: { legend: { display: false }, tooltip: { enabled: false } },
      scales: {
        x: {
          type: 'linear', min: p.xMin, max: p.xMax,
          afterBuildTicks: s => { s.ticks = p.xTicks.map(v => ({ value: v })); },
          afterFit: s => { s.height = p.axisH; },
          ticks: { font: tickFont, color: '#777', padding: 2, maxRotation: 0, autoSkip: false },
          grid: { drawOnChartArea: false, drawTicks: true, tickLength: 3, color: '#aaa' },
          border: { display: false },
          title: { display: true, text: '2Th Degrees', font: { family: 'Liberation Sans', size: 9 }, color: '#555', padding: { top: 0, bottom: 2 } }
        },
        y: {
          min: p.yMin, max: p.yMax,
          afterBuildTicks: s => { s.ticks = p.yTicks.map(v => ({ value: v })); },
          afterFit: s => { s.width = p.left; },
          ticks: { font: tickFont, color: '#777', padding: 2, autoSkip: false },
          grid: { drawOnChartArea: false, drawTicks: true, tickLength: 3, color: '#aaa' },
          border: { display: false },
          title: { display: true, text: 'Counts', font: { family: 'Liberation Sans', size: 9 }, color: '#555', padding: { top: 10, bottom: 0 } }
        }
      }
    },
    plugins: [frame]
  });
}

panel('p100', {
  padTop: 15, axisH: 25, left: 51, xMin: 5.06, xMax: 56.63, yMin: -50, yMax: 1100,
  xTicks: xTicks100, yTicks: yTicks100,
  datasets: [
    line(obs100, 'rgba(35,15,15,0.95)', 1.4),
    line(obs100, 'rgba(60,40,40,0.3)', 4),
    line(calc100, CALC_RED, 1.4),
    line(mono100, '#a23aa8', 1.4),
    line(cubic100, '#3b4de0', 1.2),
    marks(cubicTicks100, -18, '#5060e0', 'line', 2.5),
    marks(monoTicks100, -32, '#a050b0', 'line', 2.5)
  ]
});

panel('p80', {
  padTop: 10, axisH: 30, left: 50, xMin: 10.02, xMax: 58.82, yMin: -18, yMax: 331,
  xTicks: xTicks80, yTicks: yTicks80,
  datasets: [
    line(calc80, CALC_RED, 1.3, [4, 3]),
    line(obs80, OBS_BLUE, 1.2),
    line(obs80, OBS_HALO, 6),
    line(cubic80, '#7d86e8', 1.2),
    line(mono80, '#70c060', 1.2),
    marks(cubicTicks80, -8, '#5060e0', 'line', 2.5),
    marks(monoTicks80, -12, '#60b050', 'line', 2.5)
  ]
});

panel('p60', {
  padTop: 13, axisH: 28, left: 48, xMin: 10, xMax: 59.16, yMin: -25, yMax: 500,
  xTicks: xTicks60, yTicks: yTicks60,
  datasets: [
    line(calc60, CALC_RED, 1.3, [4, 3]),
    line(obs60, OBS_BLUE, 1.2),
    line(obs60, OBS_HALO, 6),
    marks(monoTicks60, -14, '#60b050', 'line', 2.5)
  ]
});

panel('p40', {
  padTop: 10, axisH: 27, left: 49, xMin: 9.95, xMax: 60.38, yMin: -33, yMax: 833,
  xTicks: xTicks40, yTicks: yTicks40,
  datasets: [
    line(calc40, CALC_RED, 1.3, [4, 3]),
    line(obs40, OBS_BLUE, 1.2),
    line(obs40, OBS_HALO, 6),
    line(phase40, '#222', 1.4),
    marks(peaks40, -27, '#111', 'triangle', 2.5)
  ]
});

panel('p20', {
  padTop: 7, axisH: 28, left: 49, xMin: 9.9, xMax: 60.43, yMin: -36, yMax: 834,
  xTicks: xTicks20, yTicks: yTicks20,
  datasets: [
    line(calc20, CALC_RED, 1.3, [4, 3]),
    line(obs20, OBS_BLUE, 1.2),
    line(obs20, OBS_HALO, 5),
    marks(monoTicks20, -25, '#60b050', 'line', 2.5)
  ]
});
</script>
</body>
</html>
